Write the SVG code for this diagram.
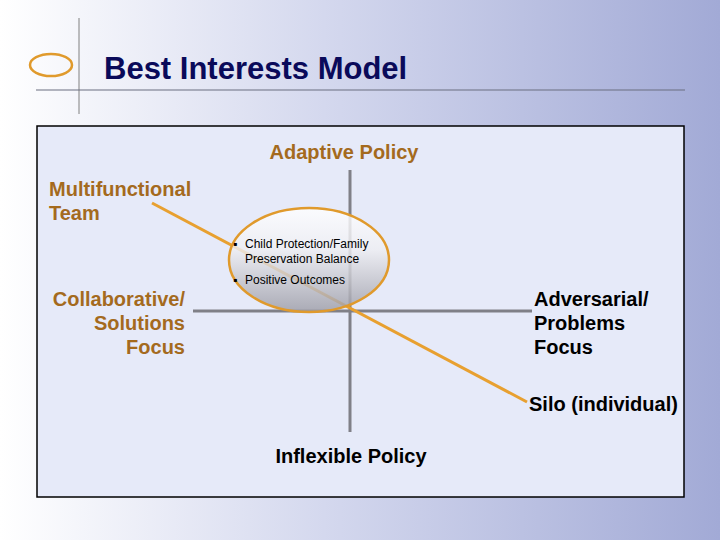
<svg xmlns="http://www.w3.org/2000/svg" width="720" height="540" viewBox="0 0 720 540">
<defs>
<linearGradient id="bg" x1="0" y1="0" x2="1" y2="0">
<stop offset="0" stop-color="#ffffff"/>
<stop offset="0.45" stop-color="#d4d8ee"/>
<stop offset="1" stop-color="#a2aad6"/>
</linearGradient>
<linearGradient id="ell" x1="0" y1="0" x2="0" y2="1">
<stop offset="0" stop-color="#ffffff"/>
<stop offset="0.4" stop-color="#eeeef2"/>
<stop offset="1" stop-color="#9c9ca6"/>
</linearGradient>
<style>
.t{font-family:"Liberation Sans",Arial,sans-serif;font-weight:bold;font-size:20px}
.o{fill:#a46a1e}
.k{fill:#000}
.b{font-family:"Liberation Sans",Arial,sans-serif;font-size:12px;fill:#000}
.ax{stroke:#808088;stroke-width:3}
</style>
</defs>
<rect width="720" height="540" fill="url(#bg)"/>
<g id="title">
<ellipse cx="51" cy="65" rx="21" ry="11" fill="none" stroke="#e09a2c" stroke-width="2.5"/>
<line x1="79" y1="18" x2="79" y2="114" stroke="#808080" stroke-width="1"/>
<line x1="36" y1="90" x2="685" y2="90" stroke="#6a6e80" stroke-width="1.2"/>
<text x="104" y="79" font-family="Liberation Sans,Arial,sans-serif" font-weight="bold" font-size="31" fill="#0a0a5a">Best Interests Model</text>
</g>
<rect x="37" y="126" width="647" height="371" fill="#e6eaf9" stroke="#000" stroke-width="1.5"/>
<g id="connectors">
<line class="ax" x1="350" y1="170" x2="350" y2="432"/>
<line class="ax" x1="193" y1="311" x2="532" y2="311"/>
<line x1="152" y1="203" x2="527" y2="402" stroke="#e8a030" stroke-width="3"/>
</g>
<g id="center">
<ellipse cx="309" cy="260" rx="80" ry="52" fill="url(#ell)" fill-opacity="0.82" stroke="#e09a2c" stroke-width="2.5"/>
<text class="b" x="233" y="248">▪</text>
<text class="b" x="245" y="248">Child Protection/Family</text>
<text class="b" x="245" y="263">Preservation Balance</text>
<text class="b" x="233" y="284">▪</text>
<text class="b" x="245" y="284">Positive Outcomes</text>
</g>
<g id="adaptive"><text class="t o" x="344" y="159" text-anchor="middle">Adaptive Policy</text></g>
<g id="multifunctional"><text class="t o" x="49" y="196">Multifunctional</text><text class="t o" x="49" y="220">Team</text></g>
<g id="collaborative"><text class="t o" text-anchor="end" x="185" y="306">Collaborative/</text><text class="t o" text-anchor="end" x="185" y="330">Solutions</text><text class="t o" text-anchor="end" x="185" y="354">Focus</text></g>
<g id="adversarial"><text class="t k" x="534" y="306">Adversarial/</text><text class="t k" x="534" y="330">Problems</text><text class="t k" x="534" y="354">Focus</text></g>
<g id="silo"><text class="t k" x="529" y="411">Silo (individual)</text></g>
<g id="inflexible"><text class="t k" x="351" y="463" text-anchor="middle">Inflexible Policy</text></g>
</svg>
